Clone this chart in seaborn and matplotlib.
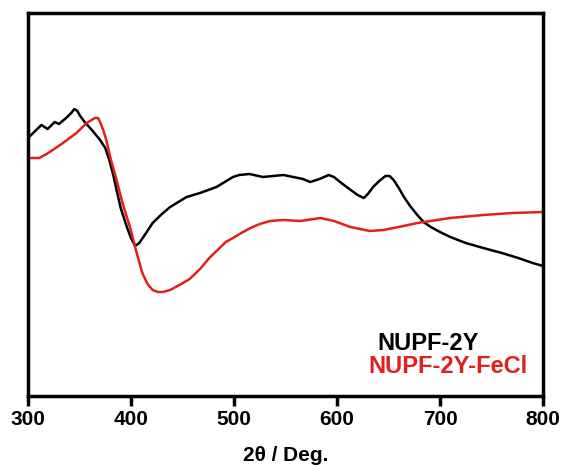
import matplotlib
matplotlib.use("Agg")
import matplotlib.pyplot as plt
import seaborn as sns
import pandas as pd

# NUPF-2Y (black)
x_black = [300, 301, 307, 313, 319, 326, 330, 337, 342, 345, 348, 350, 355, 362, 370, 375,
           379, 383, 386, 390, 396, 400, 404, 408, 414, 421, 430, 438, 446, 454, 467, 475,
           483, 491, 499, 505, 515, 528, 548, 567, 574, 583, 592, 597, 603, 612, 620, 626,
           630, 635, 641, 647, 651, 655, 660, 665, 671, 678, 684, 691, 700, 710, 725, 742,
           760, 776, 790, 800]
y_black = [258, 259, 265, 271, 267, 274, 272, 278, 283, 287, 285, 281, 274, 266, 256, 248,
           236, 220, 206, 188, 169, 158, 150, 153, 162, 173, 182, 189, 194, 199, 203, 206,
           209, 214, 219, 221, 222, 219, 221, 217, 214, 217, 221, 219, 214, 207, 201, 198,
           202, 209, 215, 220, 220, 216, 208, 199, 190, 181, 174, 169, 164, 159, 153, 148,
           143, 138, 133, 130]

# NUPF-2Y-FeCl (red)
x_red = [300, 301, 311, 318, 324, 334, 347, 357, 365, 368, 370, 373, 376, 380, 386, 392,
         399, 405, 411, 416, 421, 426, 431, 438, 447, 457, 467, 476, 486, 492, 499, 507,
         516, 525, 535, 548, 564, 584, 597, 613, 632, 645, 660, 678, 710, 742, 770, 800]
y_red = [238, 238, 238, 242, 246, 253, 263, 273, 278, 278, 274, 266, 256, 238, 216, 192,
         169, 145, 123, 112, 106, 104, 104, 106, 111, 117, 127, 138, 148, 154, 158, 163,
         168, 172, 175, 176, 175, 178, 175, 169, 165, 166, 169, 173, 178, 181, 183, 184]

series_names = ["NUPF-2Y", "NUPF-2Y-FeCl"]
colors = ["#000000", "#e0201b"]
x_ticks = [300, 400, 500, 600, 700, 800]

df = pd.concat([
    pd.DataFrame({"x": x_black, "y": y_black, "s": series_names[0]}),
    pd.DataFrame({"x": x_red, "y": y_red, "s": series_names[1]}),
])

sns.set_style("white")
plt.rcParams["font.family"] = ["Liberation Sans", "DejaVu Sans"]
plt.rcParams["font.weight"] = "bold"
plt.rcParams["text.color"] = "black"
plt.rcParams["xtick.color"] = "black"
plt.rcParams["axes.labelcolor"] = "black"

fig = plt.figure(figsize=(5.61, 4.65), dpi=100)
ax = fig.add_axes([28/561, 1-396/465, (543-28)/561, (396-13)/465])

sns.lineplot(data=df, x="x", y="y", hue="s", palette=colors, ax=ax,
             linewidth=1.8, legend=False, sort=False, estimator=None)

ax.set_xlim(300, 800)
ax.set_ylim(0, 383)
ax.set_xticks(x_ticks)
ax.set_xticklabels([str(t) for t in x_ticks], fontsize=15, fontweight="bold", color="black")
ax.set_yticks([])
ax.tick_params(axis="x", direction="out", length=7, width=2.5, pad=3, bottom=True,
               colors="black")
for sp in ax.spines.values():
    sp.set_linewidth(2.5)
    sp.set_color("black")
ax.set_xlabel("2θ / Deg.", fontsize=15, fontweight="bold", labelpad=12, color="black")
ax.set_ylabel("")

fig.text(377/561, 1-344/465, series_names[0], color=colors[0], fontsize=17,
         fontweight="bold", ha="left", va="center")
fig.text(368/561, 1-366/465, series_names[1], color=colors[1], fontsize=17,
         fontweight="bold", ha="left", va="center")

fig.savefig("out.png", dpi=100)
